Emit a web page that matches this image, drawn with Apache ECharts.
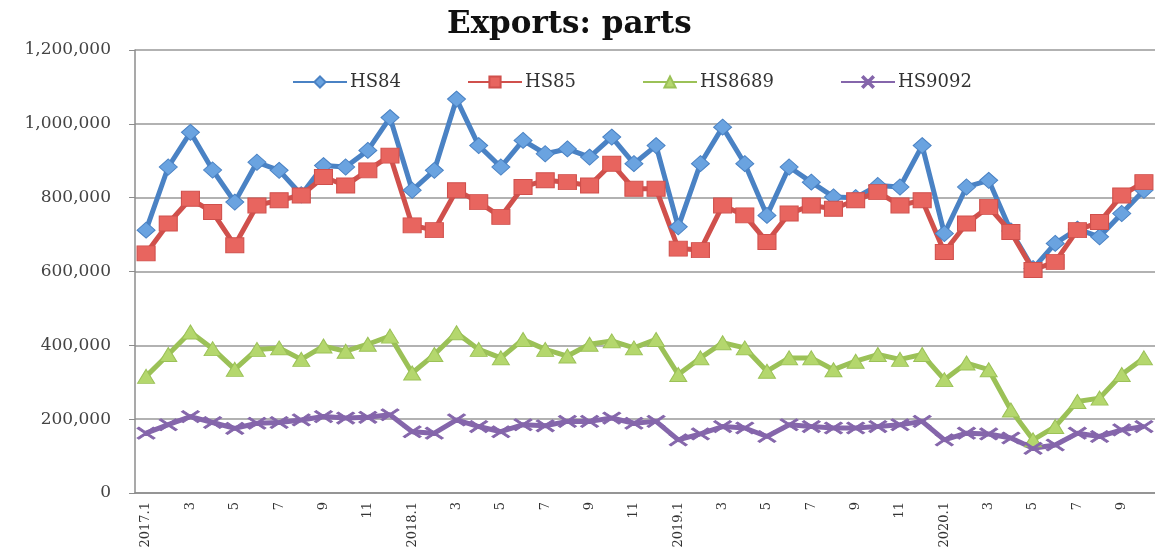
<!DOCTYPE html>
<html>
<head>
<meta charset="utf-8">
<script src="https://cdn.jsdelivr.net/npm/echarts@6/dist/echarts.min.js"></script>
<style>
    html, body { margin: 0; padding: 0; background: #fff; }
    #chart { width: 1155px; height: 553px; }
</style>
</head>
<body>
<div id="chart"></div>
<script>
    var months = ['2017.1', '2', '3', '4', '5', '6', '7', '8', '9', '10', '11', '12',
        '2018.1', '2', '3', '4', '5', '6', '7', '8', '9', '10', '11', '12',
        '2019.1', '2', '3', '4', '5', '6', '7', '8', '9', '10', '11', '12',
        '2020.1', '2', '3', '4', '5', '6', '7', '8', '9', '10'];

    var hs84 = [712000, 883000, 977000, 875000, 788000, 896000, 874000, 808000, 887000, 883000, 928000, 1017000,
        820000, 874000, 1067000, 941000, 883000, 955000, 919000, 932000, 910000, 964000, 892000, 941000,
        721000, 892000, 991000, 892000, 752000, 883000, 842000, 802000, 800000, 833000, 829000, 941000,
        703000, 829000, 847000, 710000, 608000, 676000, 715000, 694000, 757000, 820000];
    var hs85 = [649000, 730000, 797000, 761000, 671000, 779000, 793000, 806000, 856000, 833000, 874000, 914000,
        725000, 712000, 820000, 788000, 748000, 829000, 847000, 842000, 833000, 892000, 824000, 824000,
        662000, 658000, 779000, 752000, 680000, 757000, 779000, 770000, 793000, 815000, 779000, 793000,
        653000, 730000, 775000, 707000, 604000, 626000, 712000, 734000, 806000, 842000];
    var hs8689 = [316000, 375000, 436000, 391000, 335000, 389000, 393000, 362000, 398000, 384000, 403000, 425000,
        325000, 375000, 434000, 389000, 366000, 416000, 389000, 371000, 403000, 412000, 393000, 416000,
        321000, 366000, 407000, 393000, 330000, 366000, 366000, 334000, 357000, 375000, 362000, 375000,
        307000, 352000, 334000, 225000, 144000, 180000, 248000, 257000, 321000, 366000];
    var hs9092 = [162000, 185000, 207000, 191000, 175000, 189000, 191000, 198000, 207000, 203000, 205000, 212000,
        166000, 162000, 198000, 180000, 166000, 185000, 182000, 194000, 194000, 203000, 189000, 194000,
        144000, 160000, 180000, 176000, 153000, 185000, 180000, 176000, 176000, 180000, 185000, 194000,
        144000, 162000, 160000, 149000, 121000, 130000, 162000, 153000, 171000, 180000];

    var font = '"DejaVu Serif", "Liberation Serif", serif';
    var xMark = 'path://M0,1L1,0L5,4L9,0L10,1L6,5L10,9L9,10L5,6L1,10L0,9L4,5Z';

    function legendAt(name, left) {
        return {
            data: [name],
            left: left,
            top: 68,
            itemWidth: 54,
            itemHeight: 14,
            itemGap: 4,
            textStyle: {fontFamily: font, fontSize: 18, color: '#333', padding: [0, 0, 0, -2]}
        };
    }

    function line(name, data, color, symbol, size, fill) {
        return {
            name: name,
            type: 'line',
            data: data,
            symbol: symbol,
            symbolSize: size,
            showAllSymbol: true,
            lineStyle: {color: color, width: 5},
            itemStyle: {color: fill, borderColor: color, borderWidth: 1},
            z: 2
        };
    }

    var chart = echarts.init(document.getElementById('chart'));
    chart.setOption({
        animation: false,
        backgroundColor: '#fff',
        title: {
            text: 'Exports: parts',
            left: 442,
            top: 4,
            textStyle: {fontFamily: font, fontSize: 31, fontWeight: 'bold', color: '#111'}
        },
        legend: [
            legendAt('HS84', 287),
            legendAt('HS85', 462),
            legendAt('HS8689', 637),
            legendAt('HS9092', 835)
        ],
        grid: {left: 135, top: 50, width: 1030, height: 443},
        xAxis: {
            type: 'category',
            data: months,
            boundaryGap: true,
            axisLine: {lineStyle: {color: '#8c8c8c', width: 1.5}},
            axisTick: {interval: 0, length: 5, lineStyle: {color: '#8c8c8c'}},
            axisLabel: {
                interval: 1,
                rotate: 90,
                margin: 9,
                fontFamily: font,
                fontSize: 13,
                color: '#333'
            },
            splitLine: {show: false}
        },
        yAxis: {
            type: 'value',
            min: 0,
            max: 1200000,
            interval: 200000,
            axisLine: {show: true, lineStyle: {color: '#8c8c8c', width: 1.5}},
            axisTick: {show: true, length: 6, lineStyle: {color: '#8c8c8c'}},
            axisLabel: {
                margin: 24,
                fontFamily: font,
                fontSize: 17,
                color: '#444',
                formatter: function (v) { return v.toLocaleString('en-US'); }
            },
            splitLine: {lineStyle: {color: '#999', width: 1.5}}
        },
        series: [
            line('HS84', hs84, '#4a82c4', 'diamond', [18, 16], '#6aa3e0'),
            line('HS85', hs85, '#d0504c', 'rect', [18, 15], '#e8655f'),
            line('HS8689', hs8689, '#9bc157', 'triangle', [17, 14], '#b4d76d'),
            line('HS9092', hs9092, '#8566ab', xMark, [18, 12], '#8566ab')
        ]
    });
</script>
</body>
</html>
